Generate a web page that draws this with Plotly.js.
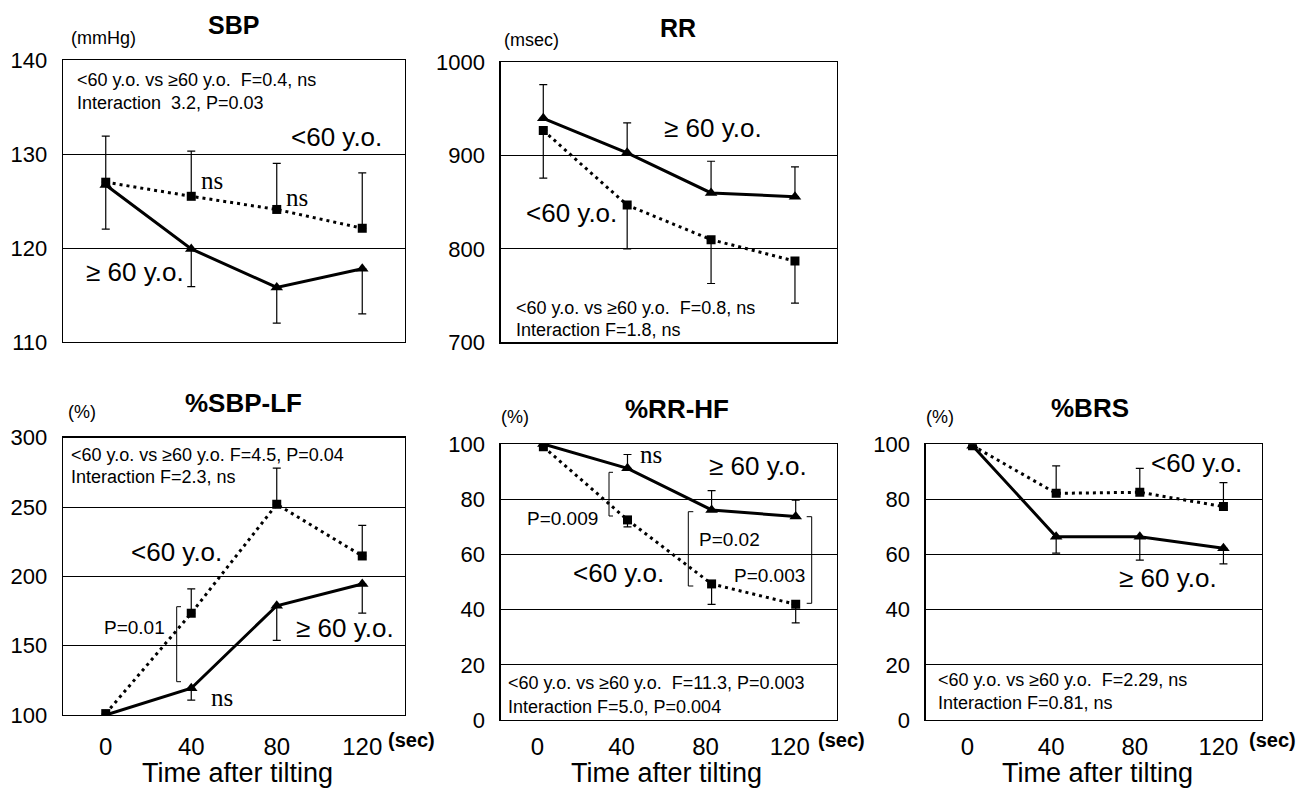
<!DOCTYPE html>
<html><head><meta charset="utf-8">
<script src="https://cdn.plot.ly/plotly-3.0.1.min.js"></script>
<style>html,body{margin:0;padding:0;background:#fff;}#chart{width:1301px;height:790px;}</style>
</head><body><div id="chart"></div>
<script>
// ---- data ----
var timeSec = [0, 40, 80, 120];
var xTickLabels = ['0', '40', '80', '120'];

var sbpYoung = [127.0, 125.5, 124.1, 122.1];
var sbpYoungErrUp = [4.9, 4.8, 4.9, 5.9];
var sbpOld = [126.7, 119.9, 115.8, 117.8];
var sbpOldErrDown = [4.7, 4.0, 3.8, 4.8];

var rrYoung = [927, 847, 810, 787];
var rrYoungErrDown = [51, 47, 47, 45];
var rrOld = [940, 903, 860, 856];
var rrOldErrUp = [36, 32, 34, 32];

var lfYoung = [101, 173.4, 252, 214.7];
var lfYoungErrUp = [0, 17.5, 26, 22];
var lfOld = [100, 119.3, 178.8, 194.5];
var lfOldErrDown = [0, 8.5, 25, 21];

var hfYoung = [99, 72.5, 49.3, 41.9];
var hfYoungErrDown = [0, 2.5, 7.4, 6.7];
var hfOld = [100, 91.2, 76.1, 73.7];
var hfOldErrUp = [0, 5, 7, 6];

var brsYoung = [99.5, 82.2, 82.6, 77.4];
var brsYoungErrUp = [0, 10, 8.7, 8.7];
var brsOld = [99.5, 66.5, 66.5, 62.3];
var brsOldErrDown = [0, 6, 8.5, 5.7];

var sbpTicks = [110, 120, 130, 140];
var rrTicks = [700, 800, 900, 1000];
var lfTicks = [100, 150, 200, 250, 300];
var pctTicks = [0, 20, 40, 60, 80, 100];

// ---- layout helpers ----
var W = 1301, H = 790;
function fx(p){ return p / W; }
function fy(p){ return 1 - p / H; }
var SANS = 'Liberation Sans, Arial, sans-serif';
var SERIF = 'Liberation Serif, Times New Roman, serif';

function mkErr(up, down){
  return {type:'data', symmetric:false, array: up, arrayminus: down, color:'#000', thickness:1.2, width:4};
}
function young(xa, ya, y, errUp, errDown){
  return {x: timeSec, y: y, xaxis: xa, yaxis: ya, type:'scatter', mode:'lines+markers',
    line:{color:'#000', width:3, dash:'3px,4px'}, marker:{symbol:'square', size:9, color:'#000'},
    error_y: mkErr(errUp, errDown), showlegend:false, hoverinfo:'skip'};
}
function old(xa, ya, y, errUp, errDown){
  return {x: timeSec, y: y, xaxis: xa, yaxis: ya, type:'scatter', mode:'lines+markers',
    line:{color:'#000', width:3}, marker:{symbol:'triangle-up', size:11, color:'#000'},
    error_y: mkErr(errUp, errDown), showlegend:false, hoverinfo:'skip'};
}
var none = [0, 0, 0, 0];

var data = [
  young('x','y', sbpYoung, sbpYoungErrUp, none),
  old('x','y', sbpOld, none, sbpOldErrDown),
  young('x2','y2', rrYoung, none, rrYoungErrDown),
  old('x2','y2', rrOld, rrOldErrUp, none),
  young('x3','y3', lfYoung, lfYoungErrUp, none),
  old('x3','y3', lfOld, none, lfOldErrDown),
  young('x4','y4', hfYoung, none, hfYoungErrDown),
  old('x4','y4', hfOld, hfOldErrUp, none),
  young('x5','y5', brsYoung, brsYoungErrUp, none),
  old('x5','y5', brsOld, none, brsOldErrDown)
];

function xax(l, r, range, anchor, showLabels, shift, standoff){
  return {domain:[fx(l), fx(r)], range: range, anchor: anchor, showgrid:false, zeroline:false,
    showline:true, mirror:true, linecolor:'#000', linewidth:1.3, ticks:'',
    tickvals: timeSec, ticktext: xTickLabels, showticklabels: showLabels,
    tickfont:{family:SANS, size:24, color:'#000'}, ticklabelstandoff: standoff || 5, ticklabelshift: shift || 0,
    fixedrange:true};
}
function yax(t, b, range, ticks, anchor){
  return {domain:[fy(b), fy(t)], range: range, anchor: anchor, tickvals: ticks,
    showgrid:true, gridcolor:'#000', gridwidth:1, zeroline:false,
    showline:true, mirror:true, linecolor:'#000', linewidth:1.3, ticks:'',
    tickfont:{family:SANS, size:22, color:'#000'}, ticklabelstandoff: 10, fixedrange:true};
}

var ann = [];
function txt(s, x, y, size, opts){
  opts = opts || {};
  ann.push({text:s, xref:'paper', yref:'paper', x:fx(x), y:fy(y), showarrow:false,
    xanchor: opts.xa || 'left', yanchor: opts.ya || 'middle', borderpad:0,
    font:{family: opts.family || SANS, size:size, color:'#000', weight: opts.bold ? 'bold' : 'normal'}});
}
var shapes = [];
function bracket(x, y1, y2, tx){
  var L = {color:'#000', width:1};
  shapes.push({type:'line', xref:'paper', yref:'paper', x0:fx(x), x1:fx(x), y0:fy(y1), y1:fy(y2), line:L});
  shapes.push({type:'line', xref:'paper', yref:'paper', x0:fx(x), x1:fx(tx), y0:fy(y1), y1:fy(y1), line:L});
  shapes.push({type:'line', xref:'paper', yref:'paper', x0:fx(x), x1:fx(tx), y0:fy(y2), y1:fy(y2), line:L});
}

// Panel 1 SBP
txt('SBP', 233, 25, 25, {xa:'center', bold:true});
txt('(mmHg)', 70, 38, 18);
txt('&lt;60 y.o. vs ≥60 y.o.  F=0.4, ns', 76, 80, 18);
txt('Interaction  3.2, P=0.03', 76, 103, 18);
txt('&lt;60 y.o.', 290, 137, 26);
txt('ns', 200, 180, 25, {family:SERIF});
txt('ns', 285, 197, 25, {family:SERIF});
txt('≥ 60 y.o.', 85, 272, 26);

// Panel 2 RR
txt('RR', 678, 28, 25, {xa:'center', bold:true});
txt('(msec)', 503, 40, 18);
txt('≥ 60 y.o.', 663, 128, 26);
txt('&lt;60 y.o.', 525, 213, 26);
txt('&lt;60 y.o. vs ≥60 y.o.  F=0.8, ns', 515, 308, 18);
txt('Interaction F=1.8, ns', 515, 330, 18);

// Panel 3 %SBP-LF
txt('%SBP-LF', 243, 403, 26, {xa:'center', bold:true});
txt('(%)', 67, 412, 18);
txt('&lt;60 y.o. vs ≥60 y.o. F=4.5, P=0.04', 70, 455, 18);
txt('Interaction F=2.3, ns', 70, 477, 18);
txt('&lt;60 y.o.', 130, 552, 26);
txt('P=0.01', 103, 627, 19);
txt('ns', 210, 697, 25, {family:SERIF});
txt('≥ 60 y.o.', 295, 628, 26);
bracket(176.7, 606.7, 681.7, 181);

// Panel 4 %RR-HF
txt('%RR-HF', 676.7, 409, 26, {xa:'center', bold:true});
txt('(%)', 500, 417, 18);
txt('ns', 639, 455, 25, {family:SERIF});
txt('≥ 60 y.o.', 708, 466, 26);
txt('&lt;60 y.o.', 571.7, 573, 26);
txt('P=0.009', 526, 518, 19);
txt('P=0.02', 698, 539, 19);
txt('P=0.003', 732.7, 575, 19);
bracket(609, 472.3, 516, 613);
bracket(688.3, 511.7, 586, 693.3);
bracket(811.7, 516.7, 603.3, 806.7);
txt('&lt;60 y.o. vs ≥60 y.o.  F=11.3, P=0.003', 506.7, 683.3, 18);
txt('Interaction F=5.0, P=0.004', 506.7, 706.7, 18);

// Panel 5 %BRS
txt('%BRS', 1090, 408, 26, {xa:'center', bold:true});
txt('(%)', 925, 417, 18);
txt('&lt;60 y.o.', 1150, 463, 26);
txt('≥ 60 y.o.', 1118, 578, 26);
txt('&lt;60 y.o. vs ≥60 y.o.  F=2.29, ns', 936.7, 680, 18);
txt('Interaction F=0.81, ns', 936.7, 703, 18);

// x axis extras
[387, 816.7, 1248].forEach(function(x){ txt('(sec)', x, 740, 20, {bold:true}); });
[237.5, 666.7, 1097.5].forEach(function(x){ txt('Time after tilting', x, 789, 27, {xa:'center', ya:'bottom'}); });

var layout = {
  width: W, height: H, autosize:false,
  margin:{l:0, r:0, t:0, b:0, pad:0},
  paper_bgcolor:'#fff', plot_bgcolor:'#fff',
  showlegend:false,
  xaxis:  xax(63, 405, [-20, 140], 'y', false),
  yaxis:  yax(60, 342, [110, 140], sbpTicks, 'x'),
  xaxis2: xax(500.7, 836.7, [-20.3, 139.9], 'y2', false),
  yaxis2: yax(62.3, 342.3, [700, 1000], rrTicks, 'x2'),
  xaxis3: xax(63, 405, [-20, 140], 'y3', true, 0, 10),
  yaxis3: yax(437.7, 715, [100, 300], lfTicks, 'x3'),
  xaxis4: xax(500.7, 836.7, [-20.3, 139.5], 'y4', true, -6, 5),
  yaxis4: yax(444, 720, [0, 100], pctTicks, 'x4'),
  xaxis5: xax(925.7, 1261.7, [-22.4, 138.3], 'y5', true, -5, 5),
  yaxis5: yax(444.3, 720, [0, 100], pctTicks, 'x5'),
  annotations: ann,
  shapes: shapes
};
Plotly.newPlot('chart', data, layout, {staticPlot:true, displayModeBar:false});
</script></body></html>
